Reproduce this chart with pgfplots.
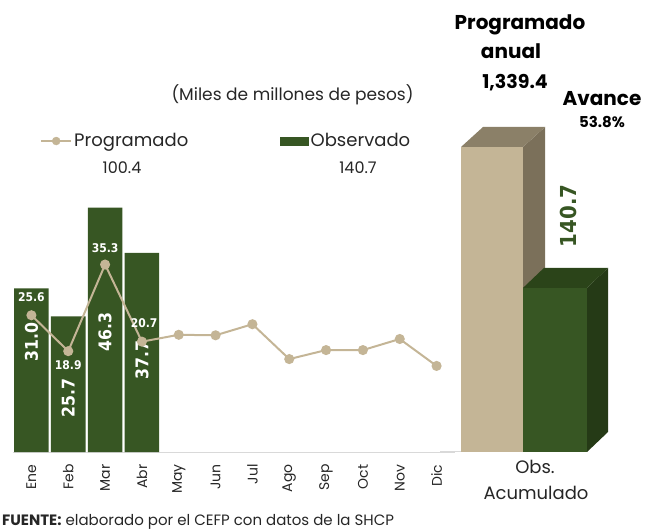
\documentclass[border=0pt]{standalone}
\usepackage{fontspec}
\setmainfont{Poppins}
\newfontfamily\dvc{DejaVu Sans Condensed Bold}
\usepackage{pgfplots}
\pgfplotsset{compat=1.18}
\definecolor{obs}{HTML}{375623}
\definecolor{obsside}{HTML}{253A16}
\definecolor{obstop}{HTML}{2B4419}
\definecolor{prog}{HTML}{C4B596}
\definecolor{progside}{HTML}{7B705A}
\definecolor{progtop}{HTML}{8B8068}
\definecolor{basegray}{HTML}{D9D9D9}
\newcommand{\fs}[1]{\fontsize{#1bp}{#1bp}\selectfont}
\begin{document}
\begin{tikzpicture}
\path[use as bounding box] (0bp,0bp) rectangle (648bp,531bp);
\begin{axis}[
 at={(13bp,79bp)}, anchor=south west, scale only axis, width=442bp, height=452bp,
 xmin=-0.5, xmax=11.5, ymin=0, ymax=85.6,
 axis x line=bottom, axis y line=none,
 x axis line style={-, draw=basegray, line width=1bp},
 xtick={0,...,11},
 xticklabels={Ene,Feb,Mar,Abr,May,Jun,Jul,Ago,Sep,Oct,Nov,Dic},
 major tick length=0pt,
 x tick label style={rotate=90, anchor=east, font=\fontsize{14bp}{14bp}\selectfont, text=black!85},
 xticklabel shift=9bp,
 clip=false,
 legend style={at={(0.0611,0.688)}, anchor=west, draw=none, fill=none, inner sep=0pt,
   font=\fs{18}, text=black!85, /tikz/every even column/.append style={column sep=90bp}},
 legend columns=2, legend cell align=left,
]
\addlegendimage{legend image code/.code={\draw[prog, line width=2bp] (0,0) -- (30bp,0); \fill[prog] (15bp,0) circle (4bp);}}
\addlegendentry{Programado}
\addlegendimage{legend image code/.code={\fill[obs] (0,-4bp) rectangle (28bp,4bp);}}
\addlegendentry{Observado}
\addplot[ybar, bar width=34.6bp, fill=obs, draw=none, forget plot] coordinates {(0,31.0)(1,25.7)(2,46.3)(3,37.7)};
\node[text=white, font=\dvc\fs{17.5}, rotate=90] at (axis cs:0,20.8) {31.0};
\node[text=white, font=\dvc\fs{17.5}, rotate=90] at (axis cs:1,10.2) {25.7};
\node[text=white, font=\dvc\fs{17.5}, rotate=90] at (axis cs:2,22.7) {46.3};
\node[text=white, font=\dvc\fs{17.5}, rotate=90] at (axis cs:3,17.4) {37.7};
\addplot[prog, line width=2bp, mark=*, mark size=4bp, mark options={fill=prog, draw=prog}, forget plot]
 coordinates {(0,25.9)(1,19.1)(2,35.5)(3,20.9)(4,22.2)(5,22.1)(6,24.2)(7,17.6)(8,19.3)(9,19.3)(10,21.4)(11,16.3)};
\node[text=white, font=\dvc\fs{12}] at (axis cs:0,29.4) {25.6};
\node[text=white, font=\dvc\fs{12}] at (axis cs:1,16.5) {18.9};
\node[text=white, font=\dvc\fs{12}] at (axis cs:2,38.6) {35.3};
\node[text=white, font=\dvc\fs{12}] at (axis cs:3.06,24.4) {20.7};
\end{axis}
\begin{axis}[
 at={(440bp,79bp)}, anchor=south west, scale only axis, width=208bp, height=452bp,
 xmin=0, xmax=208, ymin=0, ymax=148.2, hide axis, clip=false]
\addplot[basegray, line width=1bp] coordinates {(0,0)(21,0)};
\addplot[fill=progside, draw=none] coordinates {(83,0)(105,6.56)(105,106.56)(83,100)} -- cycle;
\addplot[fill=progtop, draw=none] coordinates {(21,100)(43,106.56)(105,106.56)(83,100)} -- cycle;
\addplot[fill=prog, draw=none] coordinates {(21,0)(83,0)(83,100)(21,100)} -- cycle;
\addplot[fill=obsside, draw=none] coordinates {(147,0)(168,6.56)(168,60.36)(147,53.8)} -- cycle;
\addplot[fill=obstop, draw=none] coordinates {(83,53.8)(104,60.36)(168,60.36)(147,53.8)} -- cycle;
\addplot[fill=obs, draw=none] coordinates {(83,0)(147,0)(147,53.8)(83,53.8)} -- cycle;
\end{axis}
\node[font=\fs{17}, text=black!85] at (292.5bp,436bp) {(Miles de millones de pesos)};
\node[font=\fs{16}, text=black!85] at (122bp,363bp) {100.4};
\node[font=\fs{16}, text=black!85] at (358bp,363bp) {140.7};
\node[font=\bfseries\fs{20}] at (520bp,506bp) {Programado};
\node[font=\bfseries\fs{20}] at (511bp,480bp) {anual};
\node[font=\bfseries\fs{19}] at (515bp,448bp) {1,339.4};
\node[font=\bfseries\fs{20}] at (602bp,432bp) {Avance};
\node[font=\bfseries\fs{15}] at (602bp,409bp) {53.8\%};
\node[font=\dvc\fs{22}, text=obs, rotate=90] at (568bp,315bp) {140.7};
\node[font=\fs{18}, text=black!85] at (535bp,64bp) {Obs.};
\node[font=\fs{18}, text=black!85] at (536bp,38bp) {Acumulado};
\node[font=\fs{15}, text=black!85, anchor=west, inner sep=0pt] at (2bp,9bp) {\textbf{FUENTE:} elaborado por el CEFP con datos de la SHCP};
\end{tikzpicture}
\end{document}
